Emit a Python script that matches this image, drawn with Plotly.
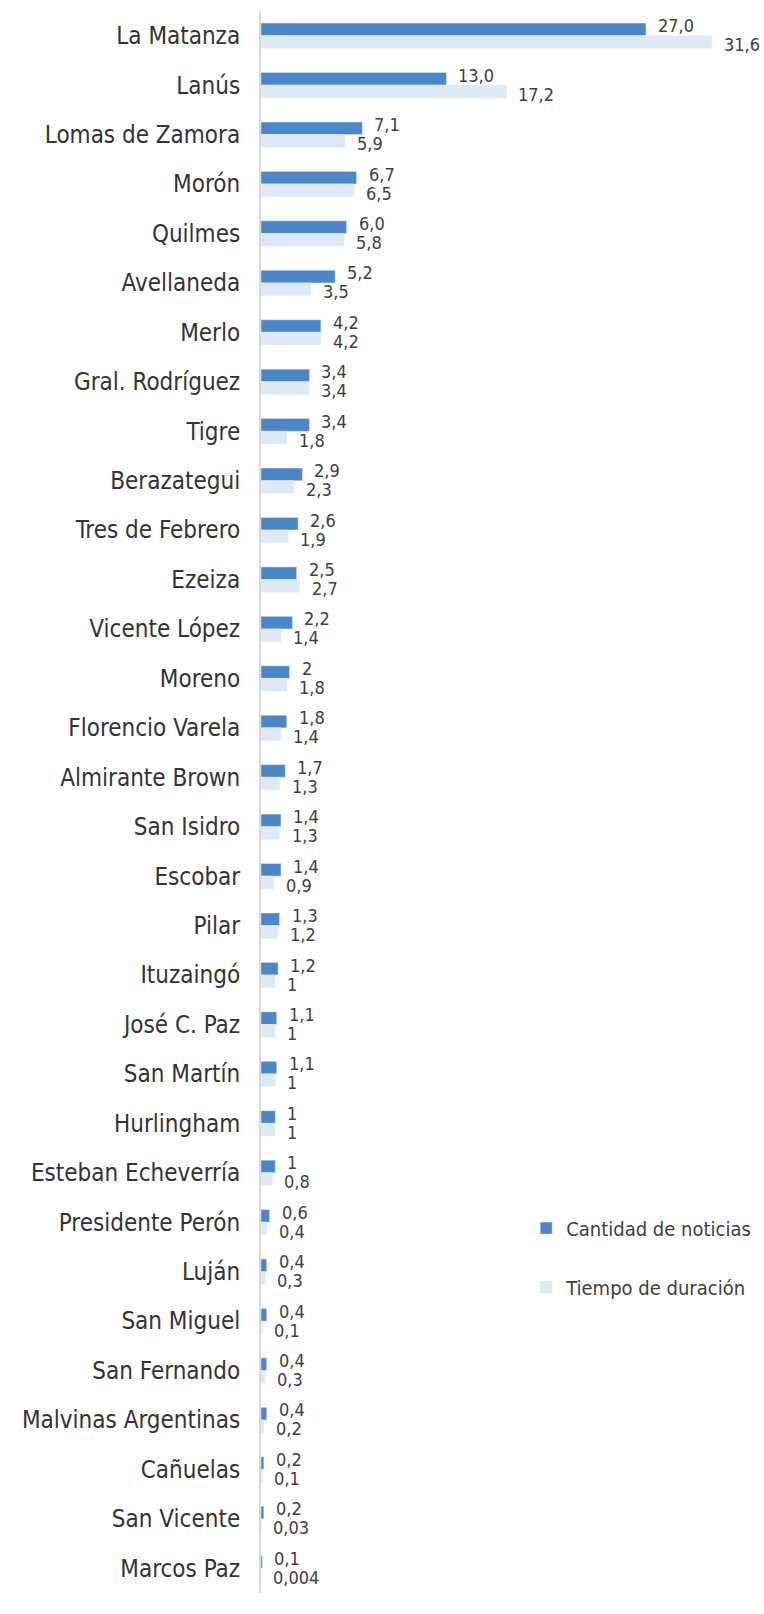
import plotly.graph_objects as go

# Municipios (orden de arriba hacia abajo)
municipios = [
    "La Matanza", "Lanús", "Lomas de Zamora", "Morón", "Quilmes", "Avellaneda",
    "Merlo", "Gral. Rodríguez", "Tigre", "Berazategui", "Tres de Febrero",
    "Ezeiza", "Vicente López", "Moreno", "Florencio Varela", "Almirante Brown",
    "San Isidro", "Escobar", "Pilar", "Ituzaingó", "José C. Paz", "San Martín",
    "Hurlingham", "Esteban Echeverría", "Presidente Perón", "Luján",
    "San Miguel", "San Fernando", "Malvinas Argentinas", "Cañuelas",
    "San Vicente", "Marcos Paz",
]
cantidad = [27.0, 13.0, 7.1, 6.7, 6.0, 5.2, 4.2, 3.4, 3.4, 2.9, 2.6, 2.5, 2.2, 2,
            1.8, 1.7, 1.4, 1.4, 1.3, 1.2, 1.1, 1.1, 1, 1, 0.6, 0.4, 0.4, 0.4,
            0.4, 0.2, 0.2, 0.1]
tiempo = [31.6, 17.2, 5.9, 6.5, 5.8, 3.5, 4.2, 3.4, 1.8, 2.3, 1.9, 2.7, 1.4, 1.8,
          1.4, 1.3, 1.3, 0.9, 1.2, 1, 1, 1, 1, 0.8, 0.4, 0.3, 0.1, 0.3, 0.2,
          0.1, 0.03, 0.004]
cantidad_txt = ["27,0", "13,0", "7,1", "6,7", "6,0", "5,2", "4,2", "3,4", "3,4",
                "2,9", "2,6", "2,5", "2,2", "2", "1,8", "1,7", "1,4", "1,4",
                "1,3", "1,2", "1,1", "1,1", "1", "1", "0,6", "0,4", "0,4",
                "0,4", "0,4", "0,2", "0,2", "0,1"]
tiempo_txt = ["31,6", "17,2", "5,9", "6,5", "5,8", "3,5", "4,2", "3,4", "1,8",
              "2,3", "1,9", "2,7", "1,4", "1,8", "1,4", "1,3", "1,3", "0,9",
              "1,2", "1", "1", "1", "1", "0,8", "0,4", "0,3", "0,1", "0,3",
              "0,2", "0,1", "0,03", "0,004"]

dark = "#4A86C8"
light = "#DEE9F6"
font = "DejaVu Sans Condensed, DejaVu Sans, sans-serif"
txt_color = "#404040"

fig = go.Figure()
fig.add_trace(go.Bar(
    y=municipios, x=cantidad, orientation="h", name="Cantidad de noticias",
    marker=dict(color=dark), legendgroup="a",
))
fig.add_trace(go.Bar(
    y=municipios, x=tiempo, orientation="h", name="Tiempo de duración",
    marker=dict(color=light), legendgroup="b",
))

# etiquetas de datos
for m, v, t in zip(municipios, cantidad, cantidad_txt):
    fig.add_annotation(x=v, y=m, text=t, showarrow=False, xanchor="left",
                       xshift=10, yshift=10, font=dict(size=18, color=txt_color))
for m, v, t in zip(municipios, tiempo, tiempo_txt):
    fig.add_annotation(x=v, y=m, text=t, showarrow=False, xanchor="left",
                       xshift=10, yshift=-9, font=dict(size=18, color=txt_color))

fig.update_layout(
    width=764, height=1614,
    barmode="group", bargap=0.49, bargroupgap=0,
    plot_bgcolor="white", paper_bgcolor="white",
    font=dict(family=font, color=txt_color),
    margin=dict(l=261, r=20, t=11, b=21, autoexpand=False),
    showlegend=True,
    legend=dict(
        x=0.549, y=0.212, xanchor="left", yanchor="middle",
        traceorder="grouped", tracegroupgap=30,
        font=dict(size=20, color=txt_color),
        itemwidth=30, bgcolor="rgba(0,0,0,0)",
    ),
)
fig.update_xaxes(range=[0, 33.87], visible=False, showgrid=False)
fig.update_yaxes(
    type="category", autorange="reversed", showline=True,
    linecolor="#D9D9D9", linewidth=2, showgrid=False, ticks="",
    ticklabelstandoff=14, tickfont=dict(size=24, color="#333333"),
)

fig.write_html("out.html", config={"displayModeBar": False},
               post_script="document.body.style.margin='0';")
